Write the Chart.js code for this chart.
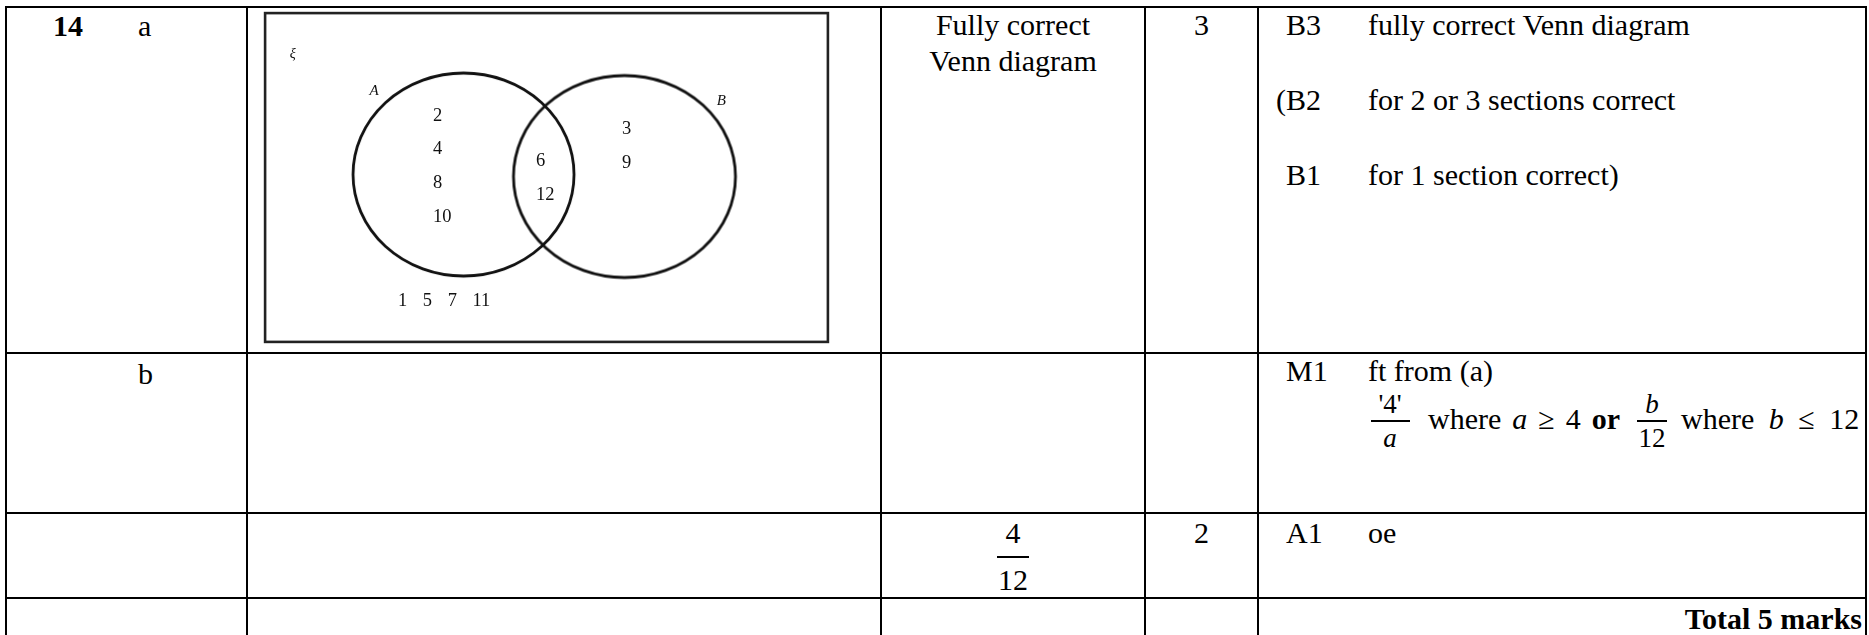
<!DOCTYPE html>
<html>
<head>
<meta charset="utf-8">
<script src="https://cdn.jsdelivr.net/npm/chart.js@4.4.1/dist/chart.umd.min.js"></script>
<style>
    body { margin: 0; background: #fff; width: 1869px; height: 635px; overflow: hidden; position: relative;
           font-family: 'Liberation Serif', 'Times New Roman', serif; font-size: 30px; color: #000; }
    .t { position: absolute; white-space: nowrap; line-height: 34px; }
    .c { text-align: center; }
    .f { position: absolute; white-space: nowrap; text-align: center; line-height: 22px; }
    .line { position: absolute; background: #000; }
    #venn { position: absolute; left: 260px; top: 8px; width: 576px; height: 345px; }
</style>
</head>
<body>
<div id="table"></div>
<div id="venn"><canvas id="myChart"></canvas></div>
<script>
// venn data
const onlyA = [2, 4, 8, 10];
const bothAB = [6, 12];
const onlyB = [3, 9];
const neither = [1, 5, 7, 11];
const setNames = ['A', 'B'];
const universal = 'ξ';

// layout of the diagram, in chart units (canvas is 576 x 345)
const circles = [
    { x: 203.5, y: 166.5, rx: 110.5, ry: 101.5 },
    { x: 364.5, y: 168.5, rx: 111, ry: 101 }
];
const regions = [
    { values: onlyA, x: 173, y: 108, dy: 33.6 },
    { values: bothAB, x: 276, y: 153.6, dy: 33.4 },
    { values: onlyB, x: 362, y: 121.5, dy: 33.4 },
    { values: neither, x: 138, y: 293.2, dx: 24.8 }
];
const nameSpots = [{ x: 114, y: 83.5 }, { x: 461.5, y: 93.5 }];

const ellipseStyle = (rx, ry) => {
    const c = document.createElement('canvas');
    c.width = Math.round(rx * 2 + 6);
    c.height = Math.round(ry * 2 + 6);
    const g = c.getContext('2d');
    g.strokeStyle = '#111';
    g.lineWidth = 2.8;
    g.beginPath();
    g.ellipse(c.width / 2, c.height / 2, rx, ry, 0, 0, Math.PI * 2);
    g.stroke();
    return c;
}

const vennText = {
    id: 'vennText',
    afterDatasetsDraw: (chart) => {
        const { ctx } = chart;
        const sx = chart.scales.x, sy = chart.scales.y;
        ctx.save();
        // universal set frame
        ctx.strokeStyle = '#222';
        ctx.lineWidth = 2.6;
        const x0 = sx.getPixelForValue(5), x1 = sx.getPixelForValue(568);
        const y0 = sy.getPixelForValue(5), y1 = sy.getPixelForValue(334);
        ctx.strokeRect(x0, y0, x1 - x0, y1 - y0);

        ctx.fillStyle = '#111';
        ctx.textBaseline = 'middle';
        ctx.font = '18.5px "Liberation Serif"';
        ctx.textAlign = 'left';
        regions.forEach(r => {
            r.values.forEach((v, i) => {
                const px = sx.getPixelForValue(r.x + (r.dx || 0) * i);
                const py = sy.getPixelForValue(r.y + (r.dy || 0) * i);
                ctx.fillText(String(v), px, py);
            });
        });
        ctx.font = 'italic 15px "Liberation Serif"';
        ctx.textAlign = 'center';
        setNames.forEach((n, i) => {
            ctx.fillText(n, sx.getPixelForValue(nameSpots[i].x), sy.getPixelForValue(nameSpots[i].y));
        });
        ctx.font = 'italic 14px "Liberation Serif"';
        ctx.fillText(universal, sx.getPixelForValue(32.6), sy.getPixelForValue(46.5));
        ctx.restore();
    }
}

const displayChart = () => {
    const ctx = document.getElementById('myChart');
    new Chart(ctx, {
        type: 'scatter',
        data: {
            datasets: [{
                label: 'sets',
                data: circles.map(c => ({ x: c.x, y: c.y })),
                pointStyle: circles.map(c => ellipseStyle(c.rx, c.ry)),
                pointRadius: 0.1,
                pointHoverRadius: 0.1,
                pointBorderWidth: 0,
                pointHoverBorderWidth: 0
            }]
        },
        options: {
            responsive: true,
            maintainAspectRatio: false,
            animation: false,
            events: [],
            layout: { padding: 0 },
            plugins: { legend: { display: false }, tooltip: { enabled: false } },
            scales: {
                x: { type: 'linear', min: 0, max: 576, display: false },
                y: { type: 'linear', min: 0, max: 345, reverse: true, display: false }
            }
        },
        plugins: [vennText]
    });
}

// table
const colLines = [6, 247, 881, 1145, 1258, 1866];
const rowLines = [7, 353, 513, 598];

const cells = [
    // [left, baseline, html]
    [53, 36, '<b>14</b>'],
    [138, 36, 'a'],
    [1286, 35, 'B3'], [1368, 35, 'fully correct Venn diagram'],
    [1276, 110, '(B2'], [1368, 110, 'for 2 or 3 sections correct'],
    [1286, 185, 'B1'], [1368, 185, 'for 1 section correct)'],
    [138, 384, 'b'],
    [1286, 381, 'M1'], [1368, 381, 'ft from (a)'],
    [1428, 429, '<span style="word-spacing:3.5px">where <i>a</i> ≥ 4 <b>or</b></span>'],
    [1681, 429, '<span style="word-spacing:7px">where <i>b</i> ≤ 12</span>'],
    [1286, 543, 'A1'], [1368, 543, 'oe']
];
const centred = [
    // [left, width, baseline, html]
    [1145, 113, 35, '3'],
    [1145, 113, 543, '2']
];
const fractions = [
    // [centre x, line y, width, num, den, num gap, den gap, font px]
    [1390, 421, 39, "'4'", '<i>a</i>', 9, 25, 27],
    [1652, 421, 30, '<i>b</i>', '12', 9, 25, 27],
    [1013, 557, 32, '4', '12', 14, 33, 30]
];

const buildTable = () => {
    const root = document.getElementById('table');
    let html = '';
    colLines.forEach(x => {
        html += `<div class="line" style="left:${x - 1}px;top:${rowLines[0] - 1}px;width:2px;height:700px"></div>`;
    });
    rowLines.forEach(y => {
        html += `<div class="line" style="left:${colLines[0] - 1}px;top:${y - 1}px;width:${colLines[5] - colLines[0] + 2}px;height:2px"></div>`;
    });
    cells.forEach(([x, base, txt]) => {
        html += `<div class="t" style="left:${x}px;top:${base - 27}px">${txt}</div>`;
    });
    centred.forEach(([x, w, base, txt]) => {
        html += `<div class="t c" style="left:${x}px;width:${w}px;top:${base - 27}px">${txt}</div>`;
    });
    // fraction parts: 22px line boxes, baseline sits about 0.7em below the box top
    fractions.forEach(([cx, ly, w, num, den, ng, dg, fs]) => {
        const b = Math.round(fs * 0.7);
        html += `<div class="f" style="left:${cx - 60}px;width:120px;font-size:${fs}px;top:${ly - ng - b}px">${num}</div>`;
        html += `<div class="line" style="left:${cx - w / 2}px;top:${ly - 0.75}px;width:${w}px;height:1.5px"></div>`;
        html += `<div class="f" style="left:${cx - 60}px;width:120px;font-size:${fs}px;top:${ly + dg - b}px">${den}</div>`;
    });
    html += `<div class="t c" style="left:881px;width:264px;top:7px;line-height:36px">Fully correct<br>Venn diagram</div>`;
    html += `<div class="t" style="right:7px;top:602px;font-weight:bold">Total 5 marks</div>`;
    root.innerHTML = html;
}

buildTable();
displayChart();
</script>
</body>
</html>
